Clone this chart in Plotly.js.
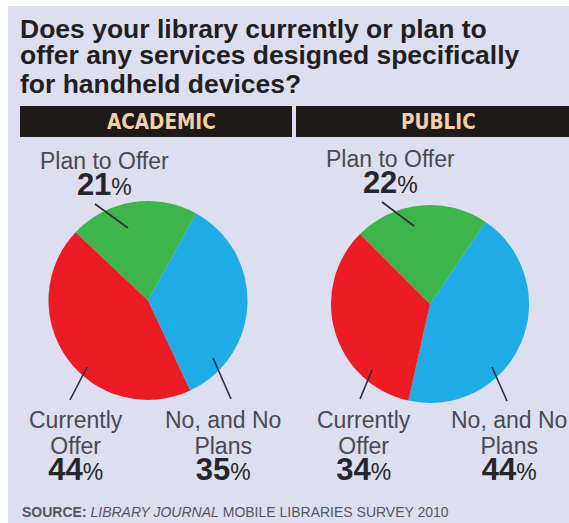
<!DOCTYPE html>
<html>
<head>
<meta charset="utf-8">
<script src="https://cdn.plot.ly/plotly-3.0.1.min.js"></script>
<style>html,body{margin:0;padding:0;background:#fff;}#chart{width:569px;height:523px;}</style>
</head>
<body>
<div id="chart"></div>
<script>
// ---- data ----
const categories = ['Plan to Offer', 'No, and No Plans', 'Currently Offer'];
const categoryLines = [['Plan to Offer'], ['No, and No', 'Plans'], ['Currently', 'Offer']];
const academicValues = [21, 35, 44];
const publicValues = [22, 44, 34];
const panelTitles = ['ACADEMIC', 'PUBLIC'];
const titleLines = ['Does your library currently or plan to', 'offer any services designed specifically', 'for handheld devices?'];
const sourceBold = 'SOURCE:';
const sourceItalic = 'LIBRARY JOURNAL';
const sourceRest = 'MOBILE LIBRARIES SURVEY 2010';

// ---- layout helpers (pixel -> paper) ----
const W = 569, H = 523;
const X = p => p / W;
const Y = p => 1 - p / H;

const sliceColors = ['#3db54a', '#1eabe6', '#ed1c24'];
const bg = '#dddff0';
const labelFont = 'Liberation Sans, Arial, sans-serif';
const narrowFont = 'Liberation Sans Narrow, Arial Narrow, DejaVu Sans Condensed, sans-serif';

function pieDomain(cx, cy, r) {
  return { x: [X(cx - r), X(cx + r)], y: [Y(cy + r), Y(cy - r)] };
}

// label positions: [x center, y of first baseline]
const panels = [
  { values: academicValues, center: [148, 300.5], r: 99.5, rotation: -46.7,
    labelPos: [[104, 169], [223, 428], [76, 428]] },
  { values: publicValues, center: [430, 304], r: 99, rotation: -45,
    labelPos: [[390, 167], [509, 428], [364, 428]] }
];

const traces = panels.map(p => ({
  type: 'pie',
  labels: categories,
  values: p.values,
  sort: false,
  direction: 'clockwise',
  rotation: p.rotation,
  textinfo: 'none',
  hoverinfo: 'skip',
  showlegend: false,
  marker: { colors: sliceColors, line: { width: 0 } },
  domain: pieDomain(p.center[0], p.center[1], p.r)
}));

const annotations = [];
const shapes = [];

// background panel (white border top/left like the scan)
shapes.push({ type: 'rect', xref: 'paper', yref: 'paper', x0: X(8), x1: 1, y0: 0, y1: Y(6),
  fillcolor: bg, line: { width: 0 }, layer: 'below' });

// title
const titleCenters = [29, 55, 84];
titleLines.forEach((t, i) => annotations.push({
  text: t, xref: 'paper', yref: 'paper', x: X(18), y: Y(titleCenters[i]),
  xanchor: 'left', yanchor: 'middle', showarrow: false,
  font: { family: labelFont, size: 26.5, color: '#231f20', weight: 700 }
}));

// header bars
const bars = [[20, 292, 161], [296, 569, 438]];
bars.forEach((b, i) => {
  shapes.push({ type: 'rect', xref: 'paper', yref: 'paper', x0: X(b[0]), x1: X(b[1]), y0: Y(137), y1: Y(106),
    fillcolor: '#1e1a1a', line: { width: 0 }, layer: 'below' });
  annotations.push({ text: panelTitles[i], xref: 'paper', yref: 'paper', x: X(b[2]), y: Y(122),
    xanchor: 'center', yanchor: 'middle', showarrow: false,
    font: { family: narrowFont, size: 20.5, color: '#f3cfa6', weight: 700 } });
});

// slice labels: one multi-line annotation per slice
const gray = '#4a4a4f';
function labelText(lines, v) {
  return lines.map(l => '<span style="font-size:23px;color:' + gray + '">' + l + '</span>').join('<br>') +
    '<br><span style="font-size:31px;font-weight:bold">' + v + '</span><span style="font-size:23px">%</span>';
}
panels.forEach(p => {
  [0, 1, 2].forEach(k => {
    const q = p.labelPos[k];
    annotations.push({
      text: labelText(categoryLines[k], p.values[k]),
      xref: 'paper', yref: 'paper', x: X(q[0]), y: Y(q[1] - 0.905 * 23 - 2),
      xanchor: 'center', yanchor: 'top', align: 'center', showarrow: false,
      font: { family: labelFont, size: 20, color: '#26262a' }
    });
  });
});

// leader lines
const leaders = [
  [128, 228, 95, 204], [87, 367, 70, 400], [213, 358, 231, 399],
  [414, 226, 382, 202], [372, 370, 360, 399], [492, 367, 507, 401]
];
leaders.forEach(l => shapes.push({ type: 'line', xref: 'paper', yref: 'paper',
  x0: X(l[0]), y0: Y(l[1]), x1: X(l[2]), y1: Y(l[3]), line: { color: '#2d2d33', width: 1.6 } }));

// source
annotations.push({
  text: '<b>' + sourceBold + '</b> <i>' + sourceItalic + '</i> ' + sourceRest,
  xref: 'paper', yref: 'paper', x: X(20), y: Y(512), xanchor: 'left', yanchor: 'middle', showarrow: false,
  font: { family: labelFont, size: 14, color: '#55555c' }
});

const layout = {
  width: W, height: H,
  margin: { l: 0, r: 0, t: 0, b: 0 },
  paper_bgcolor: '#ffffff',
  plot_bgcolor: 'rgba(0,0,0,0)',
  showlegend: false,
  shapes: shapes,
  annotations: annotations
};

Plotly.newPlot('chart', traces, layout, { displayModeBar: false, staticPlot: true });
</script>
</body>
</html>
